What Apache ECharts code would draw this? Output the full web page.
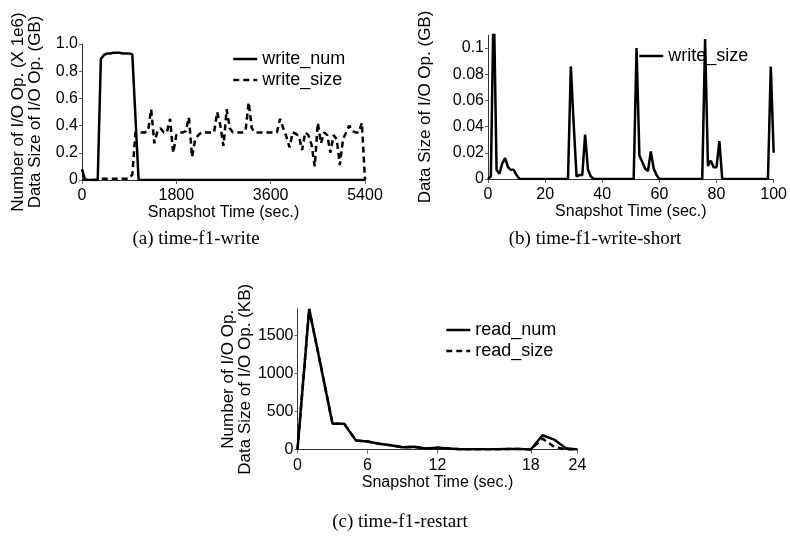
<!DOCTYPE html>
<html>
<head>
<meta charset="utf-8">
<title>time-f1</title>
<script src="https://cdn.jsdelivr.net/npm/echarts@6/dist/echarts.min.js"></script>
<style>
  html, body { margin: 0; padding: 0; background: #fff; }
  #main { width: 790px; height: 543px; }
</style>
</head>
<body>
<div id="main"></div>
<script>
// (a) time-f1-write : one sample every 60 sec
const stepA = 60
const writeNum = [
  0.08, 0, 0, 0, 0, 0, 0.89, 0.92, 0.93, 0.93,
  0.935, 0.935, 0.935, 0.93, 0.93, 0.93, 0.925, 0.46, 0, 0,
  0, 0, 0, 0, 0, 0, 0, 0, 0, 0,
  0, 0, 0, 0, 0, 0, 0, 0, 0, 0,
  0, 0, 0, 0, 0, 0, 0, 0, 0, 0,
  0, 0, 0, 0, 0, 0, 0, 0, 0, 0,
  0, 0, 0, 0, 0, 0, 0, 0, 0, 0,
  0, 0, 0, 0, 0, 0, 0, 0, 0, 0,
  0, 0, 0, 0, 0, 0, 0, 0, 0, 0,
  0
]
const writeSize = [
  0, 0, 0, 0, 0, 0, 0.01, 0.01, 0.01, 0.01,
  0.01, 0.01, 0.01, 0.01, 0.01, 0.01, 0.04, 0.35, 0.35, 0.35,
  0.35, 0.36, 0.52, 0.27, 0.36, 0.38, 0.35, 0.35, 0.45, 0.2,
  0.33, 0.35, 0.35, 0.36, 0.46, 0.17, 0.3, 0.33, 0.35, 0.35,
  0.35, 0.35, 0.35, 0.5, 0.4, 0.25, 0.52, 0.38, 0.35, 0.35,
  0.35, 0.35, 0.36, 0.57, 0.38, 0.35, 0.35, 0.35, 0.35, 0.35,
  0.35, 0.35, 0.35, 0.45, 0.38, 0.32, 0.24, 0.35, 0.34, 0.32,
  0.22, 0.35, 0.33, 0.26, 0.1, 0.42, 0.27, 0.35, 0.33, 0.2,
  0.33, 0.3, 0.11, 0.3, 0.35, 0.4, 0.36, 0.35, 0.35, 0.42,
  0
]
const xTicksA = [0, 1800, 3600, 5400]
const yTicksA = [0, 0.2, 0.4, 0.6, 0.8, 1.0]

// (b) time-f1-write-short : one sample per sec
const stepB = 1
const writeSizeShort = [
  0, 0.002, 0.14, 0.007, 0.004, 0.012, 0.016, 0.009, 0.007, 0.007,
  0.003, 0, 0, 0, 0, 0, 0, 0, 0, 0,
  0, 0, 0, 0, 0, 0, 0, 0, 0, 0.086,
  0.042, 0.002, 0.003, 0.003, 0.034, 0.007, 0.002, 0, 0, 0,
  0, 0, 0, 0, 0, 0, 0, 0, 0, 0,
  0, 0, 0.1, 0.018, 0.013, 0.008, 0.006, 0.021, 0.008, 0.003,
  0, 0, 0, 0, 0, 0, 0, 0, 0, 0,
  0, 0, 0, 0, 0, 0, 0.107, 0.01, 0.014, 0.009,
  0.009, 0.029, 0, 0, 0, 0, 0, 0, 0, 0,
  0, 0, 0, 0, 0, 0, 0, 0, 0, 0.086,
  0.02
]
const xTicksB = [0, 20, 40, 60, 80, 100]
const yTicksB = [0, 0.02, 0.04, 0.06, 0.08, 0.1]

// (c) time-f1-restart : one sample per sec
const stepC = 1
const readNum = [
  0, 1850, 1100, 340, 340, 120, 105, 75, 55, 30,
  35, 12, 22, 12, 3, 2, 2, 2, 5, 5,
  0, 188, 131, 15, 0
]
const readSize = [
  0, 1850, 1100, 340, 340, 120, 105, 75, 55, 30,
  35, 12, 22, 12, 3, 2, 2, 2, 5, 5,
  0, 145, 35, 0, 0
]
const xTickPosC = [0, 6, 12, 20, 24]
const xTickTextC = ['0', '6', '12', '18', '24']
const yTicksC = [0, 500, 1000, 1500]

const FONT = 'Liberation Sans'

function toPairs(values, step){
    return values.map((v, i) => [i * step, v])
}

function xAxis(grid, max, ticks, fmt, gap){
    return {
        type: 'value', gridIndex: grid, min: 0, max: max,
        name: 'Snapshot Time (sec.)', nameLocation: 'middle', nameGap: gap,
        nameTextStyle: { fontFamily: FONT, fontSize: 16, color: '#000' },
        axisLine: { show: true, lineStyle: { color: '#333', width: 1 } },
        axisTick: { show: true, length: 4, customValues: ticks, lineStyle: { color: '#666' } },
        axisLabel: { customValues: ticks, formatter: fmt, margin: 8,
                     fontFamily: FONT, fontSize: 16, color: '#000' },
        splitLine: { show: false }
    }
}

function yAxis(grid, max, ticks, fmt, name, gap){
    return {
        type: 'value', gridIndex: grid, min: 0, max: max,
        name: name, nameLocation: 'middle', nameRotate: 90, nameGap: gap,
        nameTextStyle: { fontFamily: FONT, fontSize: 17, lineHeight: 17, color: '#000' },
        axisLine: { show: true, lineStyle: { color: '#333', width: 1 } },
        axisTick: { show: true, length: 3, customValues: ticks, lineStyle: { color: '#666' } },
        axisLabel: { customValues: ticks, formatter: fmt, margin: 4,
                     fontFamily: FONT, fontSize: 16, color: '#000' },
        splitLine: { show: false }
    }
}

function line(name, data, xi, dashed){
    return {
        name: name, type: 'line', xAxisIndex: xi, yAxisIndex: xi,
        data: data, symbol: 'none', showSymbol: false, clip: true,
        lineStyle: { color: '#000', width: 2.5, type: dashed ? [6, 4] : 'solid' },
        itemStyle: { color: '#000' }
    }
}

// legend shows only the line sample, the circle symbol is hidden
function legend(names, left, top, fmt){
    return {
        data: names, left: left, top: top, orient: 'vertical', padding: 0,
        itemWidth: 24, itemHeight: 14, itemGap: 3, selectedMode: false,
        formatter: fmt,
        itemStyle: { opacity: 0 },
        lineStyle: { width: 2.5 },
        textStyle: { fontFamily: FONT, fontSize: 18, color: '#000' }
    }
}

function caption(text, x, y){
    return {
        type: 'text', x: x, y: y,
        style: { text: text, align: 'center', verticalAlign: 'middle',
                 font: '19px "Liberation Serif"', fill: '#000' }
    }
}

const chart = echarts.init(document.getElementById('main'))

chart.setOption({
    animation: false,
    backgroundColor: '#fff',
    grid: [
        { left: 82, top: 44, width: 283, height: 136 },
        { left: 488, top: 35, width: 288, height: 144 },
        { left: 297.5, top: 309, width: 280, height: 140.5 }
    ],
    xAxis: [
        xAxis(0, 5400, xTicksA, v => String(v), 25),
        xAxis(1, 100, xTicksB, v => String(v), 25),
        xAxis(2, 24, xTickPosC, v => xTickTextC[xTickPosC.indexOf(v)], 25)
    ],
    yAxis: [
        yAxis(0, 1.0, yTicksA, v => v === 0 ? '0' : v.toFixed(1),
              'Number of I/O Op. (X 1e6)\nData Size of I/O Op. (GB)', 38),
        yAxis(1, 0.11, yTicksB, v => String(+v.toFixed(2)),
              'Data Size of I/O Op. (GB)', 54),
        yAxis(2, 1850, yTicksC, v => String(v),
              'Number of I/O Op.\nData Size of I/O Op. (KB)', 44)
    ],
    legend: [
        legend(['write_num', 'write_size'], 232, 50),
        legend(['write_size_short'], 638, 47, () => 'write_size'),
        legend(['read_num', 'read_size'], 445, 321)
    ],
    series: [
        line('write_num', toPairs(writeNum, stepA), 0, false),
        line('write_size', toPairs(writeSize, stepA), 0, true),
        line('write_size_short', toPairs(writeSizeShort, stepB), 1, false),
        line('read_num', toPairs(readNum, stepC), 2, false),
        line('read_size', toPairs(readSize, stepC), 2, true)
    ],
    graphic: [
        caption('(a) time-f1-write', 196, 239),
        caption('(b) time-f1-write-short', 595, 239),
        caption('(c) time-f1-restart', 400, 522)
    ]
})
</script>
</body>
</html>
